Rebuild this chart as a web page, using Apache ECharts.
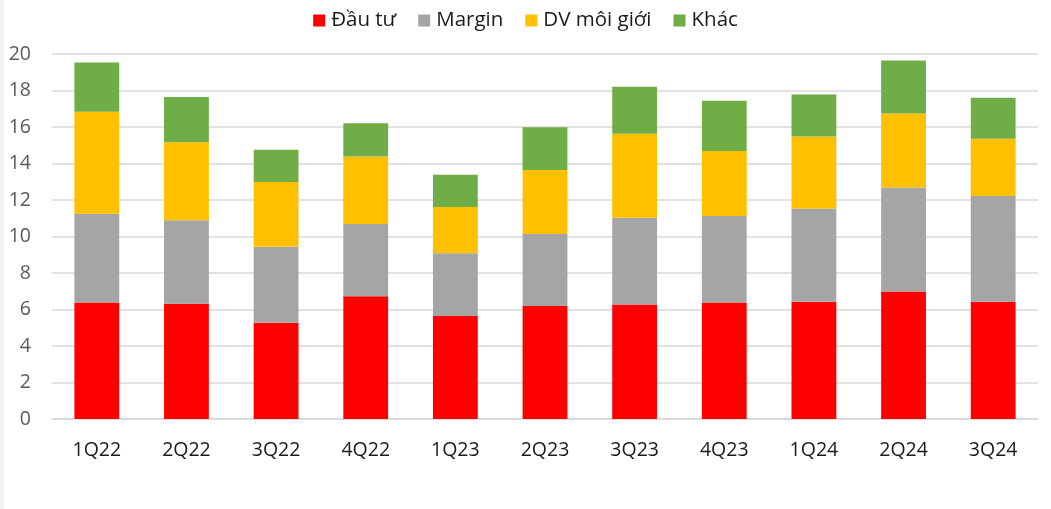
<!DOCTYPE html>
<html>
<head>
<meta charset="utf-8">
<script src="https://cdn.jsdelivr.net/npm/echarts@6/dist/echarts.min.js"></script>
<style>
  html, body { margin: 0; padding: 0; background: #ffffff; }
  #chart { position: absolute; left: 0; top: 0; width: 1051px; height: 509px; }
  #strip { position: absolute; left: 0; top: 0; width: 4px; height: 509px; background: #f2f2f2; }
</style>
</head>
<body>
<div id="chart"></div>
<div id="strip"></div>
<script>
const categories = ['1Q22', '2Q22', '3Q22', '4Q22', '1Q23', '2Q23', '3Q23', '4Q23', '1Q24', '2Q24', '3Q24'];
const dauTu     = [6.39, 6.31, 5.27, 6.73, 5.65, 6.19, 6.28, 6.39, 6.42, 6.99, 6.42];
const margin    = [4.86, 4.58, 4.17, 3.96, 3.43, 3.95, 4.75, 4.74, 5.11, 5.69, 5.80];
const dvMoiGioi = [5.58, 4.28, 3.55, 3.69, 2.54, 3.51, 4.60, 3.56, 3.95, 4.06, 3.13];
const khac      = [2.71, 2.47, 1.76, 1.83, 1.77, 2.34, 2.57, 2.75, 2.30, 2.91, 2.25];
const seriesNames = ['Đầu tư', 'Margin', 'DV môi giới', 'Khác'];
const seriesColors = ['#FF0000', '#A5A5A5', '#FFC000', '#70AD47'];
const seriesData = [dauTu, margin, dvMoiGioi, khac];

const chart = echarts.init(document.getElementById('chart'), null, { renderer: 'canvas' });
const font = '"Open Sans", "Noto Sans", sans-serif';
chart.setOption({
  animation: false,
  backgroundColor: '#ffffff',
  legend: {
    top: 5,
    left: 'center',
    itemWidth: 12,
    itemHeight: 12,
    itemGap: 22,
    icon: 'rect',
    textStyle: { fontFamily: font, fontSize: 20.5, color: '#1a1a1a', padding: [0, 0, 0, 1] },
    data: seriesNames
  },
  grid: { left: 52, right: 13, top: 54, bottom: 90, containLabel: false },
  xAxis: {
    type: 'category',
    data: categories,
    axisLine: { show: true, lineStyle: { color: '#d9d9d9', width: 1.5 } },
    axisTick: { show: false },
    axisLabel: { fontFamily: font, fontSize: 19.5, color: '#1a1a1a', margin: 21 }
  },
  yAxis: {
    type: 'value',
    min: 0,
    max: 20,
    interval: 2,
    axisLine: { show: false },
    axisTick: { show: false },
    splitLine: { lineStyle: { color: '#d9d9d9', width: 1.5 } },
    axisLabel: { fontFamily: font, fontSize: 19.5, color: '#595959', margin: 21 }
  },
  series: seriesNames.map((name, i) => ({
    name: name,
    type: 'bar',
    stack: 'total',
    barWidth: '50%',
    itemStyle: { color: seriesColors[i] },
    data: seriesData[i]
  }))
});
</script>
</body>
</html>
